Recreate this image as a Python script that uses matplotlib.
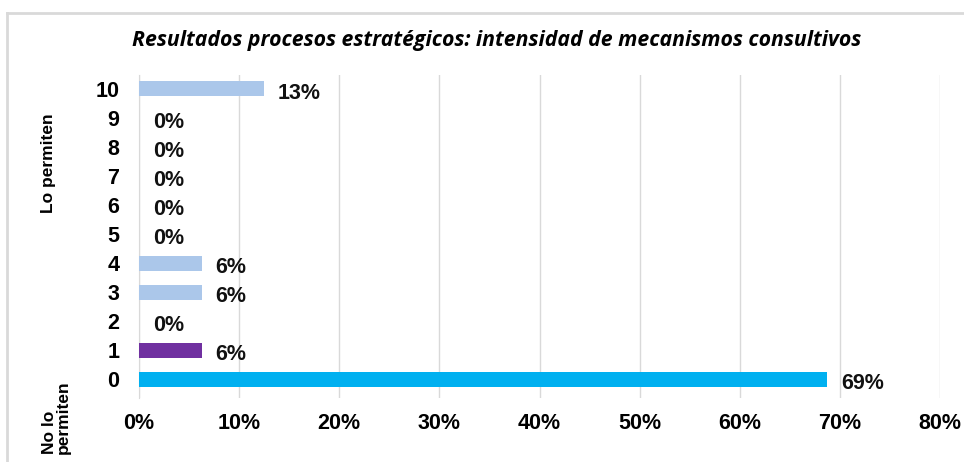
import numpy as np
import matplotlib.pyplot as plt
from matplotlib.lines import Line2D

# datos (n = 16)
niveles = ['0', '1', '2', '3', '4', '5', '6', '7', '8', '9', '10']
porcentajes = [68.75, 6.25, 0, 6.25, 6.25, 0, 0, 0, 0, 0, 12.5]
colores = ['#00b0f0', '#7030a0', '#abc7ea', '#abc7ea', '#abc7ea', '#abc7ea',
           '#abc7ea', '#abc7ea', '#abc7ea', '#abc7ea', '#abc7ea']
xticks = [0, 10, 20, 30, 40, 50, 60, 70, 80]

plt.rcParams['font.family'] = ['Liberation Sans', 'DejaVu Sans']

fig = plt.figure(figsize=(9.64, 4.62), dpi=100)
ax = fig.add_axes([0.1442, 0.1385, 0.9751 - 0.1442, 0.8377 - 0.1385])

y = np.arange(len(niveles))
ax.barh(y, porcentajes, height=0.52, color=colores, zorder=3)

for yi, v in zip(y, porcentajes):
    ax.annotate(f'{int(v + 0.5)}%', (v, yi), xytext=(10, -3), textcoords='offset points',
                ha='left', va='center', fontsize=15.5, fontweight='bold', color='#111111')

ax.set_xlim(0, 80)
ax.set_ylim(-0.65, 10.48)
ax.set_xticks(xticks)
ax.set_xticklabels([f'{t}%' for t in xticks], fontsize=15.5, fontweight='bold')
ax.set_yticks(y)
ax.set_yticklabels(niveles, fontsize=15.5, fontweight='bold')
ax.tick_params(axis='x', length=0, pad=11)
ax.tick_params(axis='y', length=0, pad=14)
ax.grid(axis='x', color='#d9d9d9', linewidth=1.0, zorder=0)
for s in ['top', 'right', 'bottom']:
    ax.spines[s].set_visible(False)
ax.spines['left'].set_color('#d9d9d9')

fig.text(0.515, 0.913, 'Resultados procesos estratégicos: intensidad de mecanismos consultivos',
         ha='center', va='center', fontsize=15.3, fontweight='bold', style='italic',
         family=['Open Sans', 'DejaVu Sans'])

fig.text(0.0498, 0.646, 'Lo permiten', rotation=90, ha='center', va='center',
         fontsize=12.5, fontweight='bold')
fig.text(0.0581, 0.0173, 'No lo\npermiten', rotation=90, rotation_mode='anchor',
         ha='left', va='center', multialignment='left',
         fontsize=12.5, fontweight='bold', linespacing=0.9)

# marco
fig.add_artist(Line2D([0.0073, 1.0], [0.972, 0.972], color='#d9d9d9', linewidth=2))
fig.add_artist(Line2D([0.0073, 0.0073], [0.0, 0.972], color='#d9d9d9', linewidth=2))

fig.savefig('out.png', dpi=100)
